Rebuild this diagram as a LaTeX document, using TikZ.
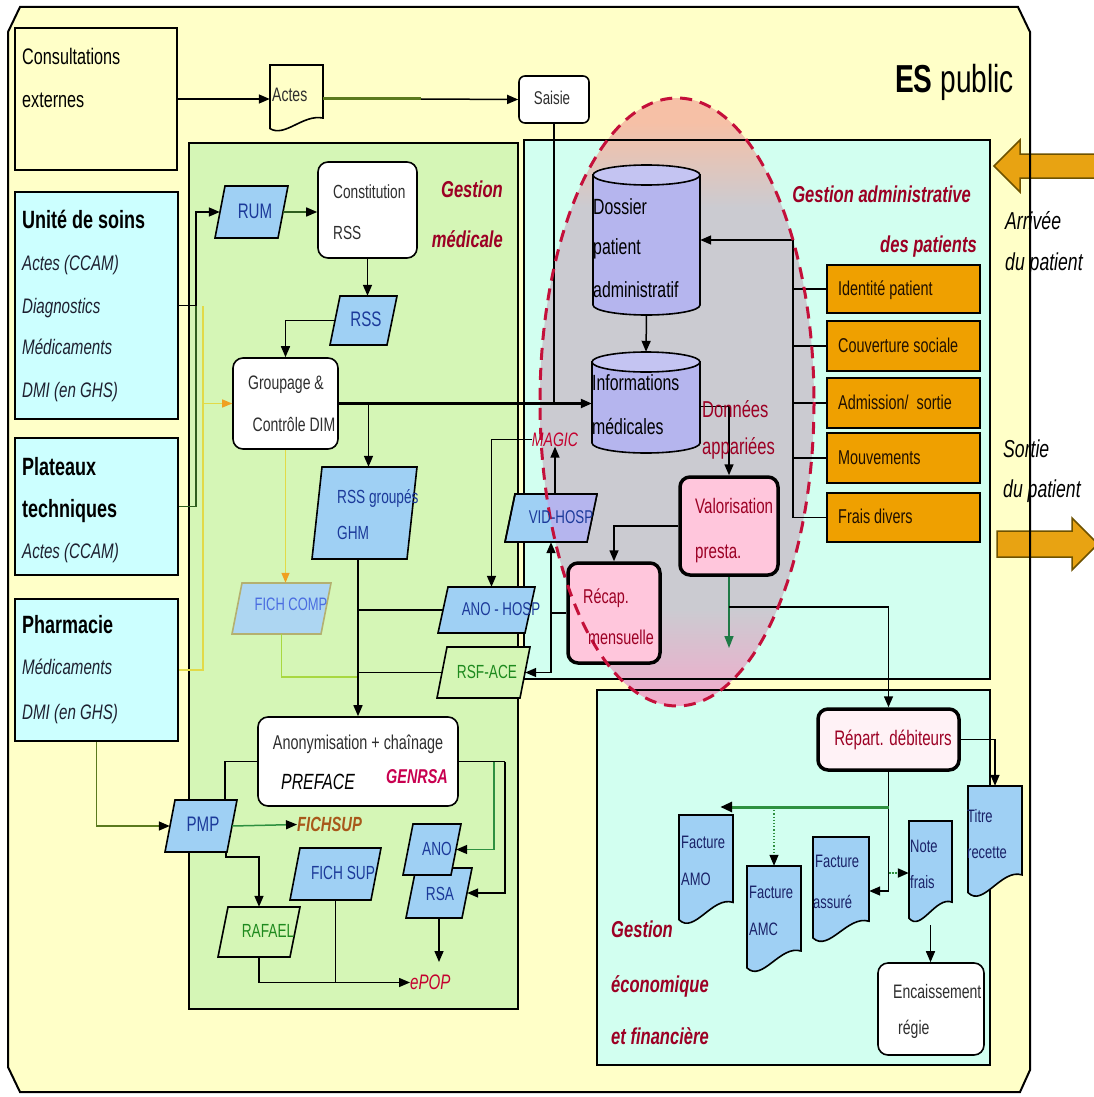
\documentclass[tikz,border=0pt]{standalone}
\usepackage{fontspec}
\setmainfont{Liberation Sans}[FakeStretch=0.72]
\usetikzlibrary{arrows.meta}
\definecolor{bgY}{HTML}{FFFFC8}
\definecolor{cyanB}{HTML}{CCFFFF}
\definecolor{greenP}{HTML}{D5F6B6}
\definecolor{aquaP}{HTML}{D2FFF0}
\definecolor{paraB}{HTML}{9FD0F4}
\definecolor{paraC}{HTML}{ADD6F2}
\definecolor{fcBd}{HTML}{B4B070}
\definecolor{oranB}{HTML}{EFA000}
\definecolor{oranA}{HTML}{E8A312}
\definecolor{arrBd}{HTML}{6E5200}
\definecolor{lavC}{HTML}{B5B5EE}
\definecolor{lavT}{HTML}{C4C4F2}
\definecolor{pinkV}{HTML}{FFC6DC}
\definecolor{repF}{HTML}{FFF2F6}
\definecolor{dred}{HTML}{9C0024}
\definecolor{mred}{HTML}{C4002E}
\definecolor{magred}{HTML}{C80050}
\definecolor{tblue}{HTML}{1C3A9A}
\definecolor{lblue}{HTML}{4A6CE0}
\definecolor{docT}{HTML}{1A2268}
\definecolor{tgrey}{HTML}{2E2E2E}
\definecolor{itT}{HTML}{1E2030}
\definecolor{otxt}{HTML}{201000}
\definecolor{tgreen}{HTML}{1E8A1E}
\definecolor{dgreen}{HTML}{2E5E1E}
\definecolor{mgreen}{HTML}{2E9040}
\definecolor{tgr}{HTML}{1F7A46}
\definecolor{olv}{HTML}{5B7A1E}
\definecolor{ylin}{HTML}{E2DA48}
\definecolor{ygl}{HTML}{A8D840}
\definecolor{orarr}{HTML}{F0A020}
\definecolor{brn}{HTML}{A8581A}
\definecolor{ellTop}{HTML}{F6C0A6}
\definecolor{ellMid}{HTML}{CBCBD1}
\definecolor{ellBot}{HTML}{F2AACB}
\definecolor{elld}{HTML}{C4103A}
\pgfdeclareverticalshading{ellsh}{100bp}{color(0bp)=(ellBot); color(25bp)=(ellBot); color(33bp)=(ellMid); color(66bp)=(ellMid); color(73bp)=(ellTop); color(100bp)=(ellTop)}

\newcommand\fsz[1]{\fontsize{#1}{#1}\selectfont}
\newcommand\txL[6]{\node[anchor=base west,inner sep=0pt,font=\fsz{#4},#5] (#1) at (#2,{#3+0.32*#4}) {#6};}
\newcommand\txC[6]{\node[anchor=base,inner sep=0pt,font=\fsz{#4},#5] (#1) at (#2,{#3+0.32*#4}) {#6};}
\newcommand\txR[6]{\node[anchor=base east,inner sep=0pt,font=\fsz{#4},#5] (#1) at (#2,{#3+0.32*#4}) {#6};}
\newcommand\paranode[7]{%
 \filldraw[fill=#6,bord,#7] ({#2-#4/2},{#3+#5/2}) -- ({#2-#4/2+10},{#3-#5/2}) -- ({#2+#4/2},{#3-#5/2}) -- ({#2+#4/2-10},{#3+#5/2}) -- cycle;
 \node[inner sep=0pt,minimum width={#4-10},minimum height={#5}] (#1) at (#2,#3) {};}
\newcommand\docnode[6]{%
 \filldraw[fill=#6,bord] (#2,#3) -- (#4,#3) -- (#4,{#5-0.22*(#5-#3)}) .. controls ({#2+0.62*(#4-#2)},{#5-0.28*(#5-#3)}) and ({#2+0.28*(#4-#2)},{#5+0.07*(#5-#3)}) .. (#2,{#5-0.065*(#5-#3)}) -- cycle;
 \node[inner sep=0pt,minimum width={#4-#2},minimum height={#5-#3}] (#1) at ({(#2+#4)/2},{(#3+#5)/2}) {};}
\newcommand\cylnode[5]{%
 \filldraw[fill=lavC,bord] (#2,{#3+10}) -- (#2,{#5-10}) arc[start angle=180,end angle=0,x radius={(#4-#2)/2},y radius=10] -- (#4,{#3+10}) -- cycle;
 \filldraw[fill=lavT,bord] ({(#2+#4)/2},{#3+10}) ellipse[x radius={(#4-#2)/2},y radius=10];
 \node[inner sep=0pt,minimum width={#4-#2},minimum height={#5-#3}] (#1) at ({(#2+#4)/2},{(#3+#5)/2}) {};}

\tikzset{
 bord/.style={draw=black,line width=1.6pt},
 boxn/.style={draw=black,line width=1.6pt,inner sep=0pt},
 rbox/.style={boxn,fill=white,rounded corners=10pt},
 pbox/.style={draw=black,line width=3.5pt,inner sep=0pt,fill=pinkV,rounded corners=10pt},
 obox/.style={boxn,fill=oranB,minimum width=153},
 con/.style={draw=black,line width=1.5pt},
 tip/.style={-{Triangle[length=11pt,width=9pt]}},
 arr/.style={con,tip},
 ktip/.style={-{Triangle[length=11pt,width=9pt,color=black]}},
 ylw/.style={draw=ylin,line width=1.3pt},
 ytip/.style={-{Triangle[length=10pt,width=8pt,color=orarr]}},
}

\begin{document}
\begin{tikzpicture}[x=1pt,y=-1pt]
\useasboundingbox (0,0) rectangle (1093,1097);
\fill[white] (0,0) rectangle (1093,1097);
% outer frame
\fill[bgY] (8,32) -- (20,7) -- (1018,7) -- (1030,32) -- (1030,1070) -- (1020,1092) -- (20,1092) -- (8,1067) -- cycle;
\filldraw[fill=oranA,draw=arrBd,line width=1.5pt] (994,166) -- (1020,140) -- (1020,154) -- (1100,154) -- (1100,178) -- (1020,178) -- (1020,192) -- cycle;
\filldraw[fill=oranA,draw=arrBd,line width=1.5pt] (997,531) -- (1072,531) -- (1072,518) -- (1098,544) -- (1072,570) -- (1072,557) -- (997,557) -- cycle;
\draw[line width=2pt] (8,32) -- (20,7) -- (1018,7) -- (1030,32) -- (1030,1070) -- (1020,1092) -- (20,1092) -- (8,1067) -- cycle;

% left boxes
\node[boxn,fill=bgY,minimum width=162,minimum height=142] (cons) at (96,99) {};
\node[boxn,fill=cyanB,minimum width=163,minimum height=227] (unite) at (96.5,305.5) {};
\node[boxn,fill=cyanB,minimum width=163,minimum height=137] (plat) at (96.5,506.5) {};
\node[boxn,fill=cyanB,minimum width=163,minimum height=142] (pharm) at (96.5,670) {};

% panels
\fill[greenP] (189,143) rectangle (518,1009);
\fill[aquaP] (524,140) rectangle (990,679);
\fill[aquaP] (597,690) rectangle (990,1065);
\shade[shading=ellsh] (677,402) ellipse[x radius=137,y radius=304];
\draw[bord] (189,143) rectangle (518,1009);
\draw[bord] (524,140) rectangle (990,679);
\draw[bord] (597,690) rectangle (990,1065);

% top row
\docnode{actes}{270}{65}{323}{133}{bgY}
\node[rbox,rounded corners=6pt,minimum width=70,minimum height=47] (saisie) at (554,99.5) {};

% gestion medicale
\paranode{rum}{251.5}{212}{73}{52}{paraB}{}
\node[rbox,minimum width=99,minimum height=96] (crss) at (367.5,210) {};
\paranode{rss}{363.5}{320.5}{67}{49}{paraB}{}
\node[rbox,minimum width=105,minimum height=91] (grp) at (285.5,403.5) {};
\paranode{rssg}{364.5}{513}{105}{92}{paraB}{}
\paranode{fcomp}{281.5}{608.5}{99}{51}{paraC}{draw=fcBd}
\paranode{anohosp}{486.5}{610}{97}{46}{paraB}{}
\paranode{rsfa}{483.5}{672.5}{93}{51}{greenP}{}
\paranode{vid}{551}{518}{92}{48}{paraB}{}
\begin{scope}
\clip (677,402) ellipse[x radius=137,y radius=304];
\fill[lavC] (505,542) -- (515,494) -- (597,494) -- (587,542) -- cycle;
\end{scope}
\draw[bord] (505,542) -- (515,494) -- (597,494) -- (587,542) -- cycle;
\node[rbox,minimum width=200,minimum height=89] (anon) at (358,761.5) {};
\paranode{pmp}{201}{826}{72}{52}{paraB}{}
\paranode{fsup}{335.5}{874}{91}{52}{paraB}{}
\paranode{rsa}{439}{893}{66}{50}{paraB}{}
\paranode{ano}{432}{849.5}{58}{51}{paraB}{}
\paranode{raf}{259}{932}{82}{50}{greenP}{}

% gestion administrative
\cylnode{doss}{593}{165}{700}{315}
\cylnode{info}{592}{352}{700}{453}
\node[pbox,minimum width=98,minimum height=98] (valo) at (729,526) {};
\node[pbox,minimum width=92,minimum height=100] (recap) at (614,613) {};
\node[obox,minimum height=48] (ident) at (903.5,289) {};
\node[obox,minimum height=50] (couv) at (903.5,346) {};
\node[obox,minimum height=50] (adm) at (903.5,403) {};
\node[obox,minimum height=50] (mouv) at (903.5,458) {};
\node[obox,minimum height=49] (frais) at (903.5,517.5) {};

% gestion economique
\node[pbox,fill=repF,minimum width=141,minimum height=61] (rep) at (888.5,739.5) {};
\docnode{titre}{968}{786}{1022}{900}{paraB}
\docnode{amo}{679}{815}{733}{927}{paraB}
\docnode{amc}{747}{866}{801}{975}{paraB}
\docnode{ass}{813}{837}{869}{945}{paraB}
\docnode{note}{909}{821}{952}{925}{paraB}
\node[rbox,minimum width=106,minimum height=92] (enc) at (931,1009) {};

% connectors
\coordinate (a1) at (421,99);
\draw[arr] (cons.east) -- (actes.west);
\draw[line width=3pt,draw=olv] (actes.east) -- (a1);
\draw[arr] (a1) -- (saisie.west);
\draw[con] (saisie.south) -- (saisie.south |- grp.east);
\draw[arr,line width=2.2pt] (grp.east) -- (grp.east -| info.west);
\coordinate (b1) at (196,212);
\draw[arr] (unite.east) -| (b1) -- (rum.west);
\draw[con,draw=dgreen] (plat.east) -| (b1 |- unite.east);
\coordinate (y1) at (203,306);
\coordinate (y2) at (203,670);
\draw[ylw] (y1) -- (y2) -- (pharm.east);
\draw[ylw,ytip] (y1 |- grp.west) -- (grp.west);
\draw[ylw,ytip] (grp.south) -- (grp.south |- fcomp.north);
\draw[draw=ygl,line width=1.3pt] (fcomp.south) |- (anon.north |- 0,677);
\draw[con,draw=dgreen,ktip] (rum.east) -- (rum.east -| crss.west);
\draw[arr] (crss.south) -- (crss.south |- rss.north);
\draw[arr] (rss.west) -| (grp.north);
\draw[arr] ([xshift=4]rssg.north |- grp.east) -- ([xshift=4]rssg.north);
\draw[arr] (anon.north |- rssg.south) -- (anon.north);
\draw[con] (anon.north |- anohosp.west) -- (anohosp.west);
\draw[con] (anon.north |- rsfa.west) -- (rsfa.west);
\coordinate (r1) at (recap.west -| vid.south);
\draw[con] (recap.west) -- (r1);
\draw[arr] (r1) -- (vid.south);
\draw[arr] (r1) |- (rsfa.east);
\draw[arr] (valo.west) -| (recap.north);
\draw[arr] ([yshift=-4]info.east) -| (valo.north);
\draw[arr] (doss.south) -- (info.north);
\coordinate (vend) at (729,648);
\draw[con,draw=tgr,-{Triangle[length=12pt,width=9pt,color=tgr]}] (valo.south) -- (vend);
\draw[arr] (valo.south |- 0,607) -| (rep.north);
\coordinate (bus) at (793,240);
\draw[arr] (bus) -- (bus -| doss.east);
\draw[con] (bus) |- (frais.west);
\foreach \n in {ident,couv,adm,mouv} \draw[con] (\n.west) -- (\n.west -| bus);
\draw[arr] (rep.east) -| (titre.north);
\draw[arr] (rep.south) |- (ass.east);
\draw[draw=mgreen,line width=3pt,-{Triangle[length=12pt,width=10pt,color=black]}] (rep.south |- 0,807) -- ([xshift=-13]amo.north east |- 0,807);
\draw[draw=mgreen,line width=1.2pt,dotted,-{Triangle[length=11pt,width=9pt,color=black]}] (amc.north |- 0,807) -- (amc.north);
\draw[draw=mgreen,line width=2pt,densely dotted,-{Triangle[length=11pt,width=9pt,color=black]}] (rep.south |- note.west) -- (note.west);
\draw[arr] (note.south) -- (note.south |- enc.north);
\draw[con] (anon.west) -| ([xshift=24]pmp.north);
\draw[con,draw=olv,ktip] (pharm.south) |- (pmp.west);
\draw[arr] ([xshift=25]pmp.south) -- ++(0,5) -| (raf.north);
\draw[con] (anon.east) -- (anon.east -| 505,0);
\draw[con,draw=mgreen,ktip] (anon.east -| 494,0) |- (ano.east);
\draw[arr] (anon.east -| 505,0) |- (rsa.east);
\coordinate (rsaend) at (439,962);
\draw[arr] (rsa.south) -- (rsaend);

% dashed ellipse outline
\draw[draw=elld,line width=3pt,dash pattern=on 12pt off 8pt] (677,402) ellipse[x radius=137,y radius=304];

% texts
\txL{esT}{895}{80}{39}{}{\textbf{ES} public}
\txL{consT1}{22}{57}{22.5}{}{Consultations}
\txL{consT2}{22}{100}{22.5}{}{externes}
\txL{uT1}{22}{220}{25}{}{\bfseries Unité de soins}
\txL{uT2}{22}{264}{21}{text=itT}{\itshape Actes (CCAM)}
\txL{uT3}{22}{307}{21}{text=itT}{\itshape Diagnostics}
\txL{uT4}{22}{348}{21}{text=itT}{\itshape Médicaments}
\txL{uT5}{22}{391}{21}{text=itT}{\itshape DMI (en GHS)}
\txL{pT1}{22}{467}{25}{}{\bfseries Plateaux}
\txL{pT2}{22}{509}{25}{}{\bfseries techniques}
\txL{pT3}{22}{552}{21}{text=itT}{\itshape Actes (CCAM)}
\txL{phT1}{22}{625}{25}{}{\bfseries Pharmacie}
\txL{phT2}{22}{668}{21}{text=itT}{\itshape Médicaments}
\txL{phT3}{22}{713}{21}{text=itT}{\itshape DMI (en GHS)}
\txL{actesT}{272}{95}{19.5}{text=tgrey}{Actes}
\txC{saisieT}{552}{99}{18.5}{text=tgrey}{Saisie}
\txL{crssT1}{333}{192}{19}{text=tgrey}{Constitution}
\txL{crssT2}{333}{233}{19}{text=tgrey}{RSS}
\txR{gmT1}{503}{190}{23}{text=dred}{\bfseries\itshape Gestion}
\txR{gmT2}{503}{240}{23}{text=dred}{\bfseries\itshape médicale}
\txC{rumT}{255}{212}{21}{text=tblue}{RUM}
\txC{rssT}{366}{320}{21}{text=tblue}{RSS}
\txC{grpT1}{286}{383}{19.5}{text=tgrey}{Groupage \&}
\txC{grpT2}{294}{425}{19.5}{text=tgrey}{Contrôle DIM}
\txL{rssgT1}{337}{497}{19}{text=tblue}{RSS groupés}
\txL{rssgT2}{337}{533}{19}{text=tblue}{GHM}
\txC{fcompT}{291}{605}{18}{text=lblue}{FICH COMP}
\txC{anohT}{501}{610}{18.5}{text=tblue}{ANO - HOSP}
\txC{rsfaT}{487}{672}{19}{text=tgreen}{RSF-ACE}
\txC{vidT}{561}{518}{18.5}{text=tblue}{VID-HOSP}
\txC{magic}{555}{440}{19.5}{text=mred}{\itshape MAGIC}
\txC{anonT1}{358}{743}{20}{text=tgrey}{Anonymisation + chaînage}
\txL{anonT2}{281}{782}{22}{}{\itshape PREFACE}
\txL{anonT3}{386}{777}{20}{text=magred}{\bfseries\itshape GENRSA}
\txC{pmpT}{203}{825}{21}{text=tblue}{PMP}
\txL{fichsup}{297}{825}{20.5}{text=brn}{\bfseries\itshape FICHSUP}
\txC{fsupT}{343}{873}{19}{text=tblue}{FICH SUP}
\txC{anoT}{437}{849}{19}{text=tblue}{ANO}
\txC{rsaT}{440}{894}{19}{text=tblue}{RSA}
\txC{rafT}{268}{931}{19}{text=tgreen}{RAFAEL}
\txL{epop}{410}{983}{21}{text=mred}{\itshape ePOP}
\txL{dossT1}{593}{207}{22}{}{Dossier}
\txL{dossT2}{593}{247}{22}{}{patient}
\txL{dossT3}{593}{290}{22}{}{administratif}
\txL{infoT1}{592}{383}{22}{}{Informations}
\txL{infoT2}{592}{427}{22}{}{médicales}
\txL{donT1}{702}{410}{23}{text=dred}{Données}
\txL{donT2}{702}{447}{23}{text=dred}{appariées}
\txL{valoT1}{695}{507}{21}{text=dred}{Valorisation}
\txL{valoT2}{695}{552}{21}{text=dred}{presta.}
\txL{recapT1}{583}{597}{20}{text=dred}{Récap.}
\txL{recapT2}{588}{638}{20}{text=dred}{mensuelle}
\txR{gaT1}{971}{195}{23}{text=dred}{\bfseries\itshape Gestion administrative}
\txR{gaT2}{977}{245}{23}{text=dred}{\bfseries\itshape des patients}
\txL{identT}{838}{289}{20}{text=otxt}{Identité patient}
\txL{couvT}{838}{346}{20}{text=otxt}{Couverture sociale}
\txL{admT}{838}{403}{20}{text=otxt}{Admission/\ \ sortie}
\txL{mouvT}{838}{458}{20}{text=otxt}{Mouvements}
\txL{fraisT}{838}{517}{20}{text=otxt}{Frais divers}
\txL{arrT1}{1005}{222}{24.5}{}{\itshape Arrivée}
\txL{arrT2}{1005}{263}{24.5}{}{\itshape du patient}
\txL{sorT1}{1003}{450}{24.5}{}{\itshape Sortie}
\txL{sorT2}{1003}{490}{24.5}{}{\itshape du patient}
\txC{repT}{893}{739}{21}{text=dred}{Répart. débiteurs}
\txL{amoT1}{681}{843}{18}{text=docT}{Facture}
\txL{amoT2}{681}{880}{18}{text=docT}{AMO}
\txL{amcT1}{749}{893}{18}{text=docT}{Facture}
\txL{amcT2}{749}{930}{18}{text=docT}{AMC}
\txL{assT1}{815}{862}{18}{text=docT}{Facture}
\txL{assT2}{813}{903}{18}{text=docT}{assuré}
\txL{noteT1}{910}{847}{18}{text=docT}{Note}
\txL{noteT2}{910}{883}{18}{text=docT}{frais}
\txL{titreT1}{967}{817}{18}{text=docT}{Titre}
\txL{titreT2}{967}{853}{18}{text=docT}{recette}
\txL{encT1}{893}{992}{19.5}{text=tgrey}{Encaissement}
\txL{encT2}{898}{1028}{19.5}{text=tgrey}{régie}
\txL{geT1}{611}{930}{23}{text=dred}{\bfseries\itshape Gestion}
\txL{geT2}{611}{985}{23}{text=dred}{\bfseries\itshape économique}
\txL{geT3}{611}{1037}{23}{text=dred}{\bfseries\itshape et financière}

% connectors to text labels
\draw[arr] (magic.west) -| ([xshift=5]anohosp.north);
\draw[arr] (magic.south |- vid.north) -- (magic.south);
\draw[con,draw=mgreen,ktip] (pmp.east) -- (fichsup.west);
\draw[arr] (raf.south) |- (epop.west);
\draw[con] (fsup.south) -- (fsup.south |- epop.west);
\end{tikzpicture}
\end{document}
